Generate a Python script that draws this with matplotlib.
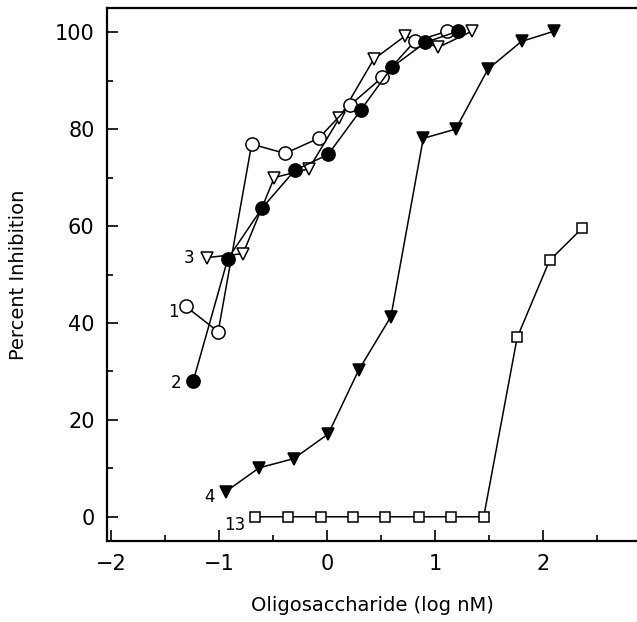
import matplotlib
matplotlib.use("Agg")
import matplotlib.pyplot as plt
from matplotlib.ticker import MultipleLocator

# Data (log nM, percent inhibition)
s1_x = [-1.31, -1.01, -0.70, -0.39, -0.08, 0.21, 0.51, 0.81, 1.11]
s1_y = [43.4, 38.2, 76.9, 75.0, 78.1, 84.9, 90.7, 98.1, 100.2]

s2_x = [-1.24, -0.92, -0.60, -0.30, 0.01, 0.31, 0.60, 0.91, 1.21]
s2_y = [28.1, 53.3, 63.8, 71.5, 74.8, 83.9, 92.8, 97.9, 100.2]

s3_x = [-1.11, -0.78, -0.49, -0.17, 0.11, 0.43, 0.72, 1.03, 1.34]
s3_y = [53.5, 54.3, 70.0, 71.8, 82.2, 94.4, 99.2, 96.9, 100.2]

s4_x = [-0.94, -0.63, -0.31, 0.01, 0.29, 0.59, 0.89, 1.19, 1.49, 1.80, 2.10]
s4_y = [5.2, 10.1, 12.0, 17.1, 30.2, 41.3, 78.1, 80.0, 92.4, 98.1, 100.2]

s13_x = [-0.67, -0.36, -0.06, 0.24, 0.54, 0.85, 1.15, 1.45, 1.76, 2.06, 2.36]
s13_y = [0, 0, 0, 0, 0, 0, 0, 0, 37.0, 52.9, 59.5]

labels = ["1", "2", "3", "4", "13"]
x_ticks = [-2, -1, 0, 1, 2]
y_ticks = [0, 20, 40, 60, 80, 100]

fig = plt.figure(figsize=(6.37, 6.22), dpi=100)
ax = fig.add_axes([107/637, 81/622, 530/637, 533/622])

lw = 1.1
mew = 1.1
ax.plot(s13_x, s13_y, color="black", lw=lw, marker="s", ms=7.8, mfc="white", mec="black", mew=mew, zorder=3)
ax.plot(s4_x, s4_y, color="black", lw=lw, marker="v", ms=9.2, mfc="black", mec="black", mew=mew, zorder=3)
ax.plot(s3_x, s3_y, color="black", lw=lw, marker="v", ms=9.2, mfc="white", mec="black", mew=mew, zorder=3)
ax.plot(s2_x, s2_y, color="black", lw=lw, marker="o", ms=9.5, mfc="black", mec="black", mew=mew, zorder=4)
ax.plot(s1_x, s1_y, color="black", lw=lw, marker="o", ms=9.5, mfc="white", mec="black", mew=mew, zorder=3)

firsts = [(s1_x[0], s1_y[0]), (s2_x[0], s2_y[0]), (s3_x[0], s3_y[0]), (s4_x[0], s4_y[0]), (s13_x[0], s13_y[0])]
offsets = [(-12, -6), (-17, -2), (-18, 0), (-16, -5), (-20, -8)]
for lab, (fx, fy), (dx, dy) in zip(labels, firsts, offsets):
    ax.annotate(lab, (fx, fy), xytext=(dx, dy), textcoords="offset pixels",
                ha="center", va="center", fontsize=12)

ax.set_xlim(-2.04, 2.87)
ax.set_ylim(-5, 105)
ax.set_xticks(x_ticks)
ax.set_yticks(y_ticks)
ax.xaxis.set_minor_locator(MultipleLocator(0.5))
ax.yaxis.set_minor_locator(MultipleLocator(10))
ax.tick_params(which="major", direction="in", length=8, width=1.2, labelsize=15, pad=9)
ax.tick_params(which="minor", direction="in", length=4.5, width=1.2)
ax.tick_params(axis="y", which="both", left=True, right=False)
ax.tick_params(axis="x", which="both", bottom=True, top=False)

for side in ["left", "bottom", "top"]:
    ax.spines[side].set_linewidth(1.6)
ax.spines["right"].set_visible(False)

ax.set_xlabel("Oligosaccharide (log nM)", fontsize=14, labelpad=16)
ax.set_ylabel("Percent Inhibition", fontsize=14, labelpad=19)

fig.savefig("out.png", dpi=100)
